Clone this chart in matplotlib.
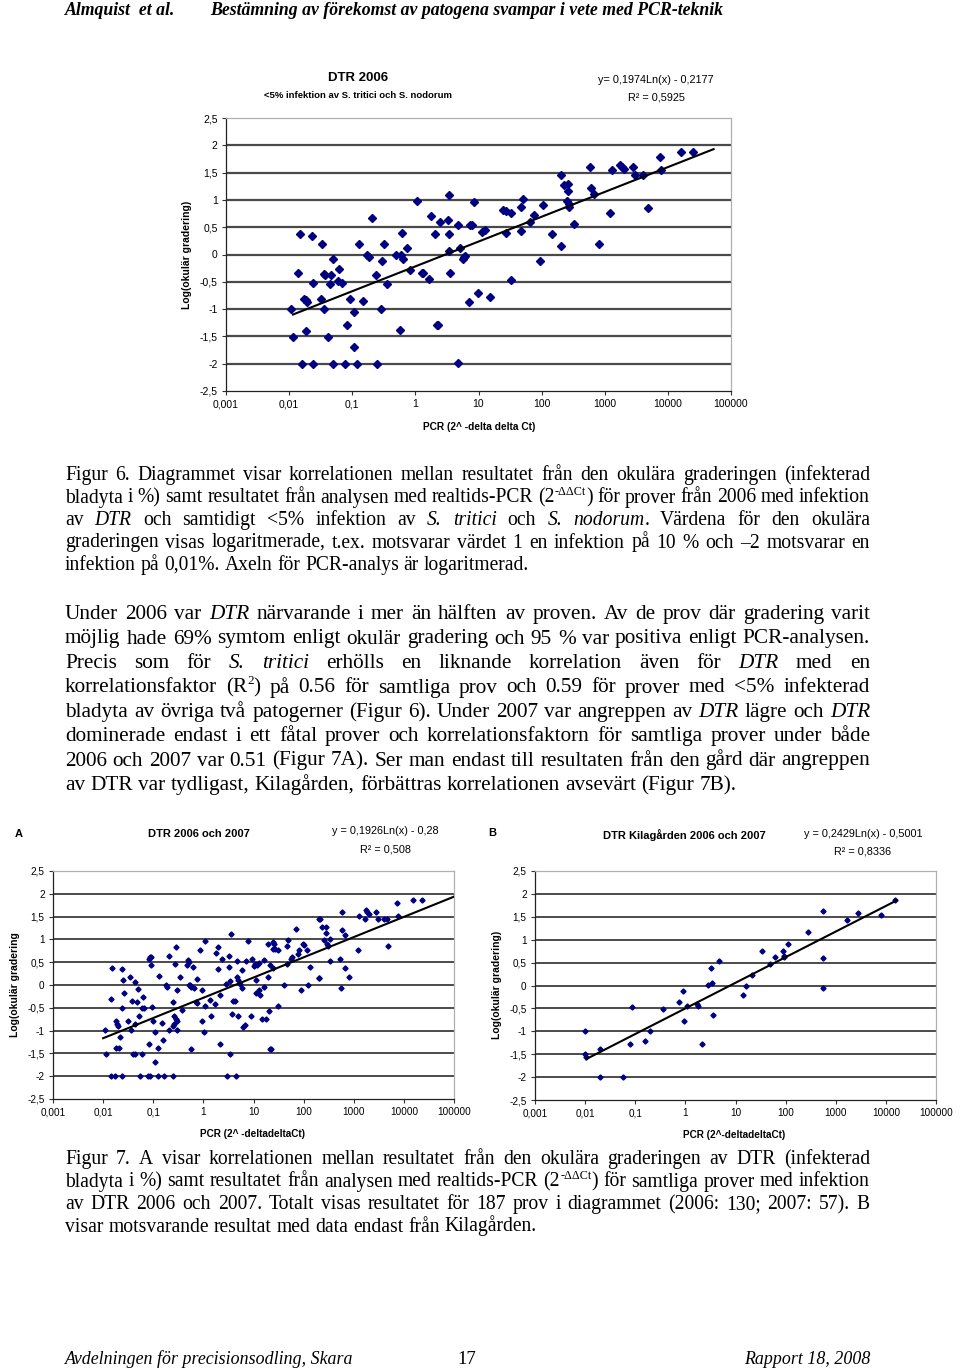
import matplotlib
matplotlib.use('Agg')
import matplotlib.pyplot as plt
from matplotlib.ticker import NullLocator
import numpy as np

W, H = 960, 1368
fig = plt.figure(figsize=(9.6, 13.68), dpi=100)
fig.patch.set_facecolor('white')

# ---------------- data ----------------
x_ticks = [1e-3, 1e-2, 1e-1, 1, 10, 100, 1000, 10000, 100000]
x_tick_labels = ['0,001', '0,01', '0,1', '1', '10', '100', '1000', '10000', '100000']
y_ticks = [2.5, 2, 1.5, 1, 0.5, 0, -0.5, -1, -1.5, -2, -2.5]
y_tick_labels = ['2,5', '2', '1,5', '1', '0,5', '0', '-0,5', '-1', '-1,5', '-2', '-2,5']

# Figure 6: DTR 2006 (<5% S. tritici / S. nodorum) -- log10(PCR) and log(grading)
fig6_log10_pcr = [-1.97, -1.94, -1.86, -1.82, -1.79, -1.76, -1.73, -1.73, -1.72, -1.63,
                  -1.62, -1.62, -1.50, -1.48, -1.45, -1.45, -1.43, -1.38, -1.36, -1.33,
                  -1.30, -1.30, -1.23, -1.21, -1.16, -1.11, -1.09, -1.04, -0.98, -0.97,
                  -0.92, -0.89, -0.83, -0.76, -0.73, -0.69, -0.62, -0.61, -0.55, -0.53,
                  -0.49, -0.45, -0.31, -0.25, -0.23, -0.21, -0.19, -0.13, -0.08, 0.03,
                  0.10, 0.12, 0.21, 0.24, 0.31, 0.34, 0.36, 0.39, 0.51, 0.53,
                  0.53, 0.54, 0.55, 0.67, 0.67, 0.71, 0.76, 0.77, 0.79, 0.85,
                  0.86, 0.89, 0.93, 0.99, 1.06, 1.10, 1.19, 1.39, 1.44, 1.43,
                  1.52, 1.51, 1.68, 1.70, 1.67, 1.81, 1.88, 1.97, 2.02, 2.17,
                  2.30, 2.31, 2.35, 2.40, 2.42, 2.41, 2.43, 2.44, 2.52, 2.77,
                  2.78, 2.83, 2.91, 3.09, 3.11, 3.24, 3.28, 3.31, 3.44, 3.48,
                  3.61, 3.69, 3.88, 3.89, 4.20, 4.40]
fig6_log_grading = [-1.00, -1.51, -0.34, 0.38, -2.00, -0.81, -0.84, -1.40, -0.87, 0.33,
                    -0.52, -2.00, -0.82, 0.20, -1.00, -0.36, -0.37, -1.51, -0.54, -0.38,
                    -0.09, -2.00, -0.49, -0.26, -0.52, -2.00, -1.29, -0.81, -1.70, -1.05,
                    -2.00, 0.20, -0.85, 0.00, -0.04, 0.66, -0.38, -2.00, -0.99, -0.12,
                    0.20, -0.54, 0.00, -1.39, -0.01, 0.40, -0.09, 0.12, -0.29, 0.98,
                    -0.34, -0.34, -0.45, 0.70, 0.37, -1.29, -1.30, 0.60, 0.63, 0.38,
                    1.09, 0.07, -0.34, 0.54, -1.99, 0.11, -0.09, -0.05, -0.03, -0.87,
                    0.54, 0.54, 0.96, -0.70, 0.41, 0.45, -0.77, 0.82, 0.79, 0.40,
                    0.76, -0.46, 0.87, 1.01, 0.43, 0.60, 0.73, -0.12, 0.90, 0.38,
                    1.45, 0.15, 1.28, 0.98, 1.30, 1.16, 0.87, 0.93, 0.55, 1.60,
                    1.21, 1.10, 0.20, 0.76, 1.54, 1.64, 1.60, 1.57, 1.60, 1.45,
                    1.46, 0.85, 1.79, 1.55, 1.87, 1.87]
fig6_fit = (0.1974, -0.2177)
fig6_fit_range = (0.0115, 53000)

# Figure 7A: DTR 2006 och 2007
fig7a_log10_pcr = [-1.97, -1.94, -1.84, -1.82, -1.84, -1.77, -1.74, -1.72, -1.71, -1.74,
                   -1.69, -1.67, -1.62, -1.61, -1.62, -1.62, -1.58, -1.50, -1.46, -1.44,
                   -1.42, -1.40, -1.37, -1.36, -1.36, -1.33, -1.31, -1.29, -1.27, -1.23,
                   -1.21, -1.22, -1.18, -1.09, -1.07, -1.05, -1.08, -1.03, -1.10, -1.07,
                   -1.04, -1.01, -0.97, -0.96, -0.89, -0.90, -0.90, -0.82, -0.81, -0.79,
                   -0.75, -0.73, -0.69, -0.69, -0.61, -0.61, -0.61, -0.58, -0.58, -0.57,
                   -0.55, -0.55, -0.53, -0.53, -0.52, -0.46, -0.43, -0.33, -0.31, -0.29,
                   -0.27, -0.29, -0.25, -0.24, -0.20, -0.18, -0.14, -0.13, -0.12, -0.07,
                   -0.03, -0.03, 0.02, 0.03, 0.04, 0.13, 0.16, 0.24, 0.25, 0.29,
                   0.30, 0.33, 0.34, 0.38, 0.46, 0.47, 0.51, 0.52, 0.54, 0.54,
                   0.55, 0.57, 0.60, 0.64, 0.66, 0.67, 0.68, 0.69, 0.70, 0.73,
                   0.77, 0.78, 0.80, 0.83, 0.85, 0.90, 0.96, 0.97, 1.00, 1.02,
                   1.04, 1.05, 1.07, 1.10, 1.11, 1.13, 1.16, 1.20, 1.20, 1.24,
                   1.28, 1.29, 1.31, 1.33, 1.35, 1.32, 1.39, 1.40, 1.39, 1.39,
                   1.42, 1.48, 1.49, 1.61, 1.67, 1.68, 1.67, 1.74, 1.77, 1.84,
                   1.88, 1.90, 1.95, 1.98, 2.01, 2.07, 2.13, 2.09, 2.30, 2.32,
                   2.30, 2.31, 2.36, 2.44, 2.40, 2.44, 2.46, 2.48, 2.53, 2.52,
                   2.73, 2.74, 2.77, 2.77, 2.83, 2.83, 2.91, 3.08, 3.11, 3.22,
                   3.24, 3.27, 3.31, 3.44, 3.48, 3.60, 3.66, 3.69, 3.87, 3.89,
                   4.18, 4.37]
fig7a_log_grading = [-0.99, -1.51, -0.31, 0.38, -2.00, -2.00, -0.80, -0.86, -0.89, -1.39,
                     -1.39, -1.14, 0.34, 0.12, -0.50, -2.00, -0.18, -0.80, 0.18, -0.99,
                     -0.35, -1.51, -1.51, 0.06, -0.85, -0.38, -0.09, -0.67, -2.00, -0.50,
                     -0.26, -1.51, -0.50, 0.57, 0.61, 0.62, -1.30, -0.48, -2.00, -2.00,
                     0.44, -0.80, -1.68, -1.04, 0.19, -1.39, -2.00, -0.83, -1.21, -2.00,
                     0.01, -0.04, -0.99, 0.64, -0.38, -2.00, -0.91, -0.86, -0.69, 0.45,
                     -0.75, 0.83, -0.79, -0.99, -0.11, 0.18, -0.55, 0.44, 0.55, 0.51,
                     0.00, -0.01, -0.04, -1.40, 0.40, -0.06, -0.37, 0.13, -0.39, 0.77,
                     -0.11, -0.78, -1.04, -0.45, 0.97, -0.33, -0.68, -0.42, 0.70, 0.83,
                     0.34, -1.30, -0.23, 0.58, 0.02, -2.00, 0.63, 0.39, 0.08, -1.51,
                     1.12, -0.64, -0.34, -0.34, -2.00, 0.53, 0.18, 0.10, -0.69, 0.03,
                     0.33, -0.07, -0.93, -0.87, 0.53, 0.96, -0.69, 0.57, 0.42, 0.47,
                     0.10, -0.18, 0.44, 0.48, -0.10, -0.23, -0.75, 0.54, -0.04, -0.75,
                     0.90, 0.18, -0.58, -1.40, -1.40, 0.44, 0.95, 0.90, 0.79, 0.38,
                     0.79, -0.46, 0.77, -0.01, 0.86, 0.99, 0.45, 0.58, 0.62, 1.23,
                     0.69, 0.77, -0.10, 0.90, 0.88, 0.77, 0.39, -0.01, 1.44, 1.44,
                     0.15, 0.15, 1.27, 1.27, 0.98, 1.15, 0.91, 0.86, 1.01, 0.53,
                     0.56, -0.06, 1.59, 1.21, 1.10, 0.38, 0.18, 0.77, 1.52, 1.44,
                     1.64, 1.59, 1.56, 1.59, 1.45, 1.45, 1.45, 0.85, 1.80, 1.52,
                     1.87, 1.87]
fig7a_fit = (0.1926, -0.28)
fig7a_fit_range = (0.01, 100000)

# Figure 7B: DTR Kilagården 2006 och 2007
fig7b_log10_pcr = [-2.00, -2.00, -1.98, -1.70, -1.70, -1.25, -1.10, -1.06, -0.81, -0.71,
                   -0.45, -0.12, -0.05, -0.03, 0.03, 0.23, 0.25, 0.33, 0.45, 0.52,
                   0.53, 0.56, 0.68, 1.15, 1.21, 1.32, 1.53, 1.69, 1.79, 1.95,
                   1.97, 1.97, 2.04, 2.45, 2.75, 2.75, 2.75, 3.22, 3.44, 3.90,
                   4.19]
fig7b_log_grading = [-0.99, -1.50, -1.56, -1.39, -1.99, -1.99, -1.28, -0.47, -1.21, -0.99,
                     -0.52, -0.36, -0.12, -0.77, -0.45, -0.41, -0.44, -1.28, 0.01, 0.39,
                     0.05, -0.64, 0.54, -0.20, -0.02, 0.22, 0.76, 0.47, 0.62, 0.76,
                     0.65, 0.63, 0.91, 1.16, 1.62, 0.59, -0.06, 1.42, 1.59, 1.54,
                     1.87]
fig7b_fit = (0.2429, -0.5001)
fig7b_fit_range = (0.0105, 16500)

# ---------------- page text ----------------
header_left = 'Almquist  et al.'
header_right = 'Bestämning av förekomst av patogena svampar i vete med PCR-teknik'
footer_left = 'Avdelningen för precisionsodling, Skara'
footer_mid = '17'
footer_right = 'Rapport 18, 2008'

caption6 = [
    "Figur 6. Diagrammet visar korrelationen mellan resultatet från den okulära graderingen (infekterad",
    "bladyta i %) samt resultatet från analysen med realtids-PCR (2^{-ΔΔCt}) för prover från 2006 med infektion",
    "av *DTR* och samtidigt <5% infektion av *S. tritici* och *S. nodorum*. Värdena för den okulära",
    "graderingen visas logaritmerade, t.ex. motsvarar värdet 1 en infektion på 10 % och –2 motsvarar en",
    "infektion på 0,01%. Axeln för PCR-analys är logaritmerad.",
]
body = [
    "Under 2006 var *DTR* närvarande i mer än hälften av proven. Av de prov där gradering varit",
    "möjlig hade 69% symtom enligt okulär gradering och 95 % var positiva enligt PCR-analysen.",
    "Precis som för *S. tritici* erhölls en liknande korrelation även för *DTR* med en",
    "korrelationsfaktor (R^{2}) på 0.56 för samtliga prov och 0.59 för prover med <5% infekterad",
    "bladyta av övriga två patogerner (Figur 6). Under 2007 var angreppen av *DTR* lägre och *DTR*",
    "dominerade endast i ett fåtal prover och korrelationsfaktorn för samtliga prover under både",
    "2006 och 2007 var 0.51 (Figur 7A). Ser man endast till resultaten från den gård där angreppen",
    "av DTR var tydligast, Kilagården, förbättras korrelationen avsevärt (Figur 7B).",
]
caption7 = [
    "Figur 7. A visar korrelationen mellan resultatet från den okulära graderingen av DTR (infekterad",
    "bladyta i %) samt resultatet från analysen med realtids-PCR (2^{-ΔΔCt}) för samtliga prover med infektion",
    "av DTR 2006 och 2007. Totalt visas resultatet för 187 prov i diagrammet (2006: 130; 2007: 57). B",
    "visar motsvarande resultat med data endast från Kilagården.",
]

SERIF = 'Liberation Serif'
SANS = 'Liberation Sans'

# overlay axes in pixel coordinates
tx = fig.add_axes([0, 0, 1, 1])
tx.set_xlim(0, W)
tx.set_ylim(H, 0)
tx.axis('off')
tx.set_zorder(5)
renderer = fig.canvas.get_renderer()


def px_axes(l, t, r, b):
    return fig.add_axes([l / W, 1 - b / H, (r - l) / W, (b - t) / H])


def parse(line):
    segs, buf, style, i = [], '', 'n', 0
    while i < len(line):
        c = line[i]
        if c == '*':
            if buf:
                segs.append((buf, style))
                buf = ''
            style = 'i' if style == 'n' else 'n'
            i += 1
        elif line.startswith('^{', i):
            if buf:
                segs.append((buf, style))
                buf = ''
            j = line.index('}', i)
            segs.append((line[i + 2:j], 's'))
            i = j + 1
        else:
            buf += c
            i += 1
    if buf:
        segs.append((buf, style))
    return segs


def words_of(segs):
    words = [[]]
    for text, st in segs:
        parts = text.split(' ')
        for k, p in enumerate(parts):
            if k > 0:
                words.append([])
            if p:
                words[-1].append((p, st))
    return [w for w in words if w]


def piece(x, y, s, st, size):
    kw = dict(fontfamily=SERIF, va='baseline', ha='left', color='black')
    if st == 'i':
        return tx.text(x, y, s, fontsize=size, fontstyle='italic', **kw)
    if st == 's':
        return tx.text(x, y - size * 100 / 72 * 0.40, s, fontsize=size * 0.62, **kw)
    return tx.text(x, y, s, fontsize=size, **kw)


def paragraph(lines, baselines, size, L=65, R=870):
    for idx, (line, yb) in enumerate(zip(lines, baselines)):
        words = words_of(parse(line))
        objs = []
        for w in words:
            wo = []
            for s, st in w:
                t = piece(0, yb, s, st, size)
                wo.append((t, t.get_window_extent(renderer).width))
            objs.append(wo)
        widths = [sum(wd for _, wd in wo) for wo in objs]
        if idx == len(lines) - 1:
            gap = size * 100 / 72 * 0.25
        else:
            gap = (R - L - sum(widths)) / (len(words) - 1)
        x = L
        for wo, ws in zip(objs, widths):
            xx = x
            for t, wd in wo:
                t.set_x(xx)
                xx += wd
            x += ws + gap


def chart(box, xlog, ys, fit, fit_range, ms, grid_c, grid_lw, tick_fs):
    ax = px_axes(*box)
    ax.set_xscale('log')
    ax.set_xlim(1e-3, 1e5)
    ax.set_ylim(-2.5, 2.5)
    ax.set_xticks(x_ticks)
    ax.set_xticklabels(x_tick_labels, fontfamily=SANS, fontsize=tick_fs)
    ax.xaxis.set_minor_locator(NullLocator())
    ax.set_yticks(y_ticks)
    ax.set_yticklabels(y_tick_labels, fontfamily=SANS, fontsize=tick_fs)
    ax.tick_params(direction='out', length=3, width=0.8, color='#333333', pad=3)
    ax.hlines(y_ticks[1:-1], 1e-3, 1e5, colors=grid_c, linewidth=grid_lw, zorder=1)
    for s in ('left', 'bottom'):
        ax.spines[s].set_color('#222222')
        ax.spines[s].set_linewidth(0.9)
    for s in ('top', 'right'):
        ax.spines[s].set_color('#b0b0b0')
        ax.spines[s].set_linewidth(0.9)
    xv = 10.0 ** np.asarray(xlog)
    ax.plot(xv, ys, linestyle='none', marker='D', ms=ms, color='#000080',
            mec='#000080', zorder=3)
    xf = np.logspace(np.log10(fit_range[0]), np.log10(fit_range[1]), 60)
    ax.plot(xf, fit[0] * np.log(xf) + fit[1], color='black', lw=1.5, zorder=4)
    return ax


# ---------------- header / footer ----------------
tx.text(65, 15, header_left, fontfamily=SERIF, fontsize=12.8, fontweight='bold',
        fontstyle='italic', va='baseline', ha='left')
tx.text(210, 15, header_right, fontfamily=SERIF, fontsize=12.8, fontweight='bold',
        fontstyle='italic', va='baseline', ha='left')
tx.text(65, 1364, footer_left, fontfamily=SERIF, fontsize=12.9, fontstyle='italic',
        va='baseline', ha='left')
tx.text(467, 1364, footer_mid, fontfamily=SERIF, fontsize=13.5, va='baseline', ha='center')
tx.text(870, 1364, footer_right, fontfamily=SERIF, fontsize=12.9, fontstyle='italic',
        va='baseline', ha='right')

# ---------------- charts ----------------
chart((226, 118, 731, 391), fig6_log10_pcr, fig6_log_grading, fig6_fit, fig6_fit_range,
      4.2, '#4a4a4a', 1.6, 7.5)
tx.text(358, 78, 'DTR 2006', fontfamily=SANS, fontsize=9.5, fontweight='bold',
        ha='center', va='center')
tx.text(358, 95, '<5% infektion av S. tritici och S. nodorum', fontfamily=SANS,
        fontsize=6.8, fontweight='bold', ha='center', va='center')
tx.text(656, 80, 'y= 0,1974Ln(x) - 0,2177', fontfamily=SANS, fontsize=7.8,
        ha='center', va='center')
tx.text(656, 97, 'R² = 0,5925', fontfamily=SANS, fontsize=7.8, ha='center', va='center')
tx.text(187, 255, 'Log(okulär gradering)', fontfamily=SANS, fontsize=7.5,
        fontweight='bold', rotation=90, ha='center', va='center')
tx.text(479, 427, 'PCR (2^ -delta delta Ct)', fontfamily=SANS, fontsize=7.3,
        fontweight='bold', ha='center', va='center')

chart((53, 871, 454, 1099), fig7a_log10_pcr, fig7a_log_grading, fig7a_fit, fig7a_fit_range,
      2.6, '#1a1a1a', 1.1, 7.2)
tx.text(19, 834, 'A', fontfamily=SANS, fontsize=8, fontweight='bold', ha='center', va='center')
tx.text(199, 834, 'DTR 2006 och 2007', fontfamily=SANS, fontsize=8, fontweight='bold',
        ha='center', va='center')
tx.text(385, 831, 'y = 0,1926Ln(x) - 0,28', fontfamily=SANS, fontsize=7.8,
        ha='center', va='center')
tx.text(385, 849, 'R² = 0,508', fontfamily=SANS, fontsize=7.8, ha='center', va='center')
tx.text(15, 985, 'Log(okulär gradering', fontfamily=SANS, fontsize=7.5,
        fontweight='bold', rotation=90, ha='center', va='center')
tx.text(253, 1134, 'PCR (2^ -deltadeltaCt)', fontfamily=SANS, fontsize=7.2,
        fontweight='bold', ha='center', va='center')

chart((535, 871, 936, 1100), fig7b_log10_pcr, fig7b_log_grading, fig7b_fit, fig7b_fit_range,
      2.6, '#1a1a1a', 1.1, 7.2)
tx.text(492, 833, 'B', fontfamily=SANS, fontsize=8, fontweight='bold', ha='center', va='center')
tx.text(684, 835, 'DTR Kilagården 2006 och 2007', fontfamily=SANS, fontsize=8,
        fontweight='bold', ha='center', va='center')
tx.text(863, 834, 'y = 0,2429Ln(x) - 0,5001', fontfamily=SANS, fontsize=7.8,
        ha='center', va='center')
tx.text(863, 852, 'R² = 0,8336', fontfamily=SANS, fontsize=7.8, ha='center', va='center')
tx.text(497, 985, 'Log(okulär gradering)', fontfamily=SANS, fontsize=7.5,
        fontweight='bold', rotation=90, ha='center', va='center')
tx.text(734, 1135, 'PCR (2^-deltadeltaCt)', fontfamily=SANS, fontsize=7.2,
        fontweight='bold', ha='center', va='center')

# ---------------- paragraphs ----------------
paragraph(caption6, [480, 502.5, 525, 547.5, 570], 14.1)
paragraph(body, [619, 643.5, 668, 692.5, 717, 741, 765.5, 790], 15.3)
paragraph(caption7, [1164, 1186.5, 1209, 1231.5], 14.1)

fig.savefig('out.png', dpi=100, facecolor='white')
